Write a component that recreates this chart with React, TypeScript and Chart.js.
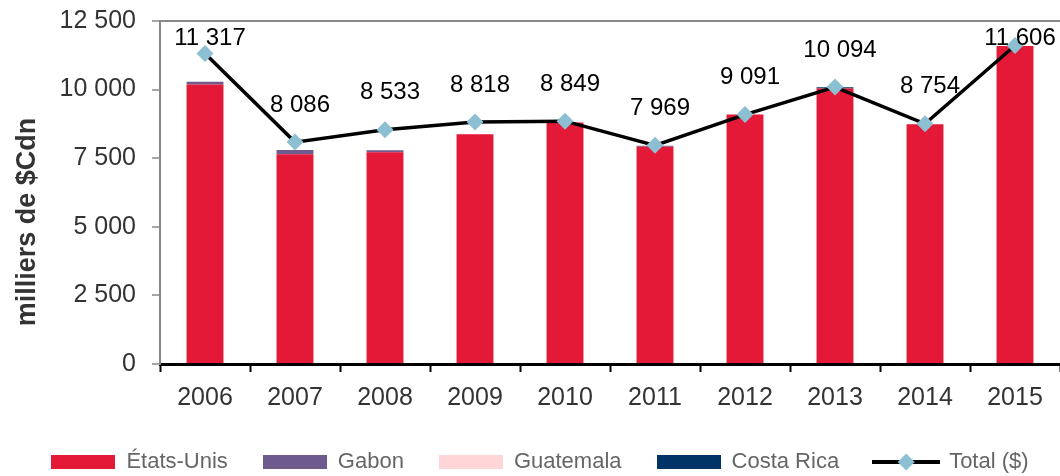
import React, { useEffect, useRef } from "react";
import { Chart, registerables } from "chart.js";

Chart.register(...registerables);

const years = ["2006", "2007", "2008", "2009", "2010", "2011", "2012", "2013", "2014", "2015"];
const etatsUnis = [10190, 7640, 7715, 8370, 8800, 7920, 9090, 10040, 8740, 11590];
const gabon = [100, 160, 75, 0, 0, 35, 0, 0, 0, 0];
const guatemala = [0, 0, 0, 15, 0, 0, 10, 0, 0, 0];
const costaRica = [0, 0, 0, 0, 0, 0, 0, 50, 0, 0];
const total = [11317, 8086, 8533, 8818, 8849, 7969, 9091, 10094, 8754, 11606];
const yTicks = [0, 2500, 5000, 7500, 10000, 12500];

const RED = "#E31937";
const PURPLE = "#6F5A8D";
const PINK = "#FFD5D8";
const NAVY = "#003366";
const DIAMOND = "#8CBFD2";
const FONT = "'Liberation Sans', Arial, sans-serif";

const fmt = (v: number) => String(Math.round(v)).replace(/\B(?=(\d{3})+(?!\d))/g, " ");

function boxImg(color: string) {
  const c = document.createElement("canvas");
  c.width = 64;
  c.height = 14;
  const g = c.getContext("2d")!;
  g.fillStyle = color;
  g.fillRect(0, 0, 64, 14);
  return c;
}

function lineImg() {
  const c = document.createElement("canvas");
  c.width = 68;
  c.height = 20;
  const g = c.getContext("2d")!;
  g.strokeStyle = "#000";
  g.lineWidth = 4;
  g.beginPath();
  g.moveTo(0, 10);
  g.lineTo(68, 10);
  g.stroke();
  g.fillStyle = DIAMOND;
  g.beginPath();
  g.moveTo(34, 1.5);
  g.lineTo(42.5, 10);
  g.lineTo(34, 18.5);
  g.lineTo(25.5, 10);
  g.closePath();
  g.fill();
  return c;
}

const labelPlugin = {
  id: "totLabels",
  afterDatasetsDraw(chart: any) {
    const ctx = chart.ctx;
    const meta = chart.getDatasetMeta(4);
    const top = chart.chartArea.top;
    ctx.save();
    ctx.font = `24px ${FONT}`;
    ctx.fillStyle = "#000";
    ctx.textAlign = "center";
    ctx.textBaseline = "middle";
    meta.data.forEach((pt: any, i: number) => {
      const y = Math.max(pt.y - 37, top + 17);
      ctx.fillText(fmt(total[i]), pt.x + 5, y);
    });
    ctx.restore();
  },
};

const titlePlugin = {
  id: "yTitle",
  afterDraw(chart: any) {
    const ctx = chart.ctx;
    ctx.save();
    ctx.translate(28, 222);
    ctx.rotate(-Math.PI / 2);
    ctx.font = `bold 27px ${FONT}`;
    ctx.fillStyle = "#333";
    ctx.textAlign = "center";
    ctx.textBaseline = "middle";
    ctx.fillText("milliers de $Cdn", 0, 0);
    ctx.restore();
  },
};

export default function App() {
  const ref = useRef<HTMLCanvasElement>(null);
  useEffect(() => {
    if (!ref.current) return;
    const imgs = [boxImg(RED), boxImg(PURPLE), boxImg(PINK), boxImg(NAVY), lineImg()];
    const names = ["États-Unis", "Gabon", "Guatemala", "Costa Rica", "Total ($)"];
    const bar = (label: string, data: number[], color: string) => ({
      type: "bar" as const,
      label,
      data,
      backgroundColor: color,
      borderWidth: 0,
      stack: "s",
      order: 1,
      barPercentage: 0.41,
      categoryPercentage: 1,
    });
    const chart = new Chart(ref.current, {
      type: "bar",
      data: {
        labels: years,
        datasets: [
          bar("États-Unis", etatsUnis, RED),
          bar("Gabon", gabon, PURPLE),
          bar("Guatemala", guatemala, PINK),
          bar("Costa Rica", costaRica, NAVY),
          {
            type: "line" as const,
            label: "Total ($)",
            data: total,
            borderColor: "#000",
            borderWidth: 3.5,
            pointStyle: "rectRot",
            pointRadius: 8.5,
            pointBackgroundColor: DIAMOND,
            pointBorderWidth: 0,
            pointBorderColor: DIAMOND,
            stack: "t",
            order: 0,
            tension: 0,
          } as any,
        ],
      },
      options: {
        responsive: false,
        animation: false,
        devicePixelRatio: 1,
        layout: { autoPadding: false, padding: { left: 10, right: -10, top: 21, bottom: -7 } },
        plugins: {
          tooltip: { enabled: false },
          legend: {
            position: "bottom",
            title: { display: true, text: "", font: { size: 1 }, padding: 1.4 },
            labels: {
              usePointStyle: true,
              pointStyleWidth: 64,
              boxHeight: 14,
              padding: 35,
              color: "#404040",
              font: { family: FONT, size: 22 },
              generateLabels: () =>
                names.map((n, i) => ({
                  text: n,
                  pointStyle: imgs[i] as any,
                  fillStyle: "transparent",
                  strokeStyle: "transparent",
                  lineWidth: 0,
                  hidden: false,
                  datasetIndex: i,
                })),
            },
          },
        },
        scales: {
          x: {
            stacked: true,
            offset: true,
            afterFit: (axis: any) => {
              axis.paddingLeft = 0;
              axis.paddingRight = 0;
              axis.height = 48;
            },
            grid: {
              offset: true,
              drawOnChartArea: false,
              tickColor: "#000",
              tickWidth: 2,
              tickLength: 8,
            },
            border: { color: "#000", width: 3 },
            ticks: { color: "#333", font: { family: FONT, size: 25 }, padding: 11 },
          },
          y: {
            stacked: true,
            min: 0,
            max: 12500,
            afterBuildTicks: (axis: any) => {
              axis.ticks = yTicks.map((v) => ({ value: v }));
            },
            afterFit: (axis: any) => {
              axis.width = 150;
              axis.paddingTop = 0;
              axis.paddingBottom = 0;
            },
            grid: {
              color: (c: any) => (c.tick && c.tick.value === 12500 ? "#888" : "rgba(0,0,0,0)"),
              lineWidth: 2,
              tickColor: "#888",
              tickWidth: 1.5,
              tickLength: 8,
            },
            border: { color: "#888", width: 2 },
            ticks: {
              color: "#333",
              font: { family: FONT, size: 25 },
              padding: 16,
              callback: (v: any) => fmt(Number(v)),
            },
          },
          spacer: {
            type: "linear",
            position: "right",
            display: true,
            grid: { display: false, drawTicks: false },
            border: { display: false },
            ticks: { display: false },
            afterFit: (axis: any) => {
              axis.width = 10;
              axis.paddingTop = 0;
              axis.paddingBottom = 0;
            },
          },
        },
      },
      plugins: [labelPlugin, titlePlugin],
    });
    return () => chart.destroy();
  }, []);
  return (
    <div style={{ position: "fixed", left: 0, top: 0, width: 1060, height: 476, background: "#fff" }}>
      <canvas ref={ref} width={1060} height={476} style={{ width: 1060, height: 476 }} />
    </div>
  );
}
